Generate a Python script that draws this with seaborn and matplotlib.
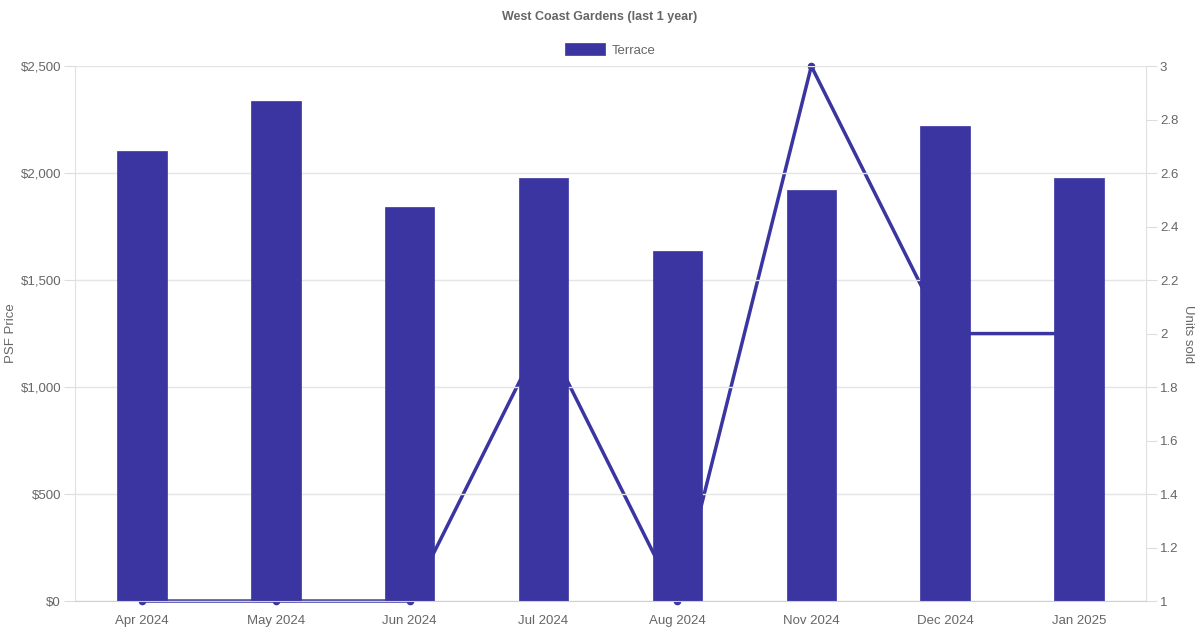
import matplotlib.pyplot as plt
import matplotlib.ticker as mticker
import pandas as pd
import seaborn as sns

months = ['Apr 2024', 'May 2024', 'Jun 2024', 'Jul 2024', 'Aug 2024', 'Nov 2024', 'Dec 2024', 'Jan 2025']
psf_price = [2103, 2337, 1841, 1977, 1636, 1921, 2220, 1977]
units_sold = [1, 1, 1, 2, 1, 3, 2, 2]

color = '#3a35a0'
grey = '#666666'
df = pd.DataFrame({'month': months, 'psf': psf_price, 'units': units_sold})

sns.set_style('white')
plt.rcParams['font.family'] = ['Liberation Sans', 'DejaVu Sans']

fig, ax = plt.subplots(figsize=(12, 6.3), dpi=100)
fig.subplots_adjust(left=0.0625, right=0.955, top=0.895, bottom=0.046)

ax2 = ax.twinx()
ax.set_zorder(2)
ax.patch.set_visible(False)
ax2.set_zorder(1)

sns.barplot(data=df, x='month', y='psf', color=color, width=0.37, saturation=1, ax=ax,
            label='Terrace', edgecolor=color, linewidth=0.5)
sns.lineplot(data=df, x='month', y='units', color=color, linewidth=2.5, marker='o', markersize=5.5,
             markeredgewidth=0, ax=ax2, legend=False, clip_on=False)

ax.set_ylim(0, 2500)
ax.set_xlim(-0.5, len(months) - 0.5)
ax2.set_ylim(1, 3)
ax.yaxis.set_major_locator(mticker.MultipleLocator(500))
ax.yaxis.set_major_formatter(mticker.FuncFormatter(lambda v, p: f'${v:,.0f}'))
ax2.yaxis.set_major_locator(mticker.MultipleLocator(0.2))
ax2.yaxis.set_major_formatter(mticker.FuncFormatter(lambda v, p: f'{v:g}'))

ax.grid(axis='y', color='#e5e5e5', linewidth=1)
ax.set_axisbelow(True)
for a in (ax, ax2):
    for s in a.spines.values():
        s.set_visible(False)
    a.tick_params(colors=grey, labelsize=9.5, length=8, color='#dddddd', pad=2)
ax.spines['left'].set_visible(True)
ax.spines['left'].set_color('#e0e0e0')
ax.spines['bottom'].set_visible(True)
ax.spines['bottom'].set_color('#d0d0d0')
ax2.spines['right'].set_visible(True)
ax2.spines['right'].set_color('#e0e0e0')
ax.tick_params(axis='x', length=0, pad=10)

ax.set_xlabel('')
ax.set_ylabel('PSF Price', color=grey, fontsize=9.5, va='center')
ax2.set_ylabel('Units sold', color=grey, fontsize=9.5, rotation=270, va='center')
ax.yaxis.set_label_coords(-0.0598, 0.5)
ax2.yaxis.set_label_coords(1.0392, 0.5)

fig.suptitle('West Coast Gardens (last 1 year)', color=grey, fontsize=9, fontweight='bold', y=0.982)
leg = ax.legend(loc='center', bbox_to_anchor=(0.5, 1.03), frameon=False, fontsize=9.5,
                handlelength=3.0, handleheight=0.95, handletextpad=0.5)
for t in leg.get_texts():
    t.set_color(grey)

plt.savefig('out.png', dpi=100)
